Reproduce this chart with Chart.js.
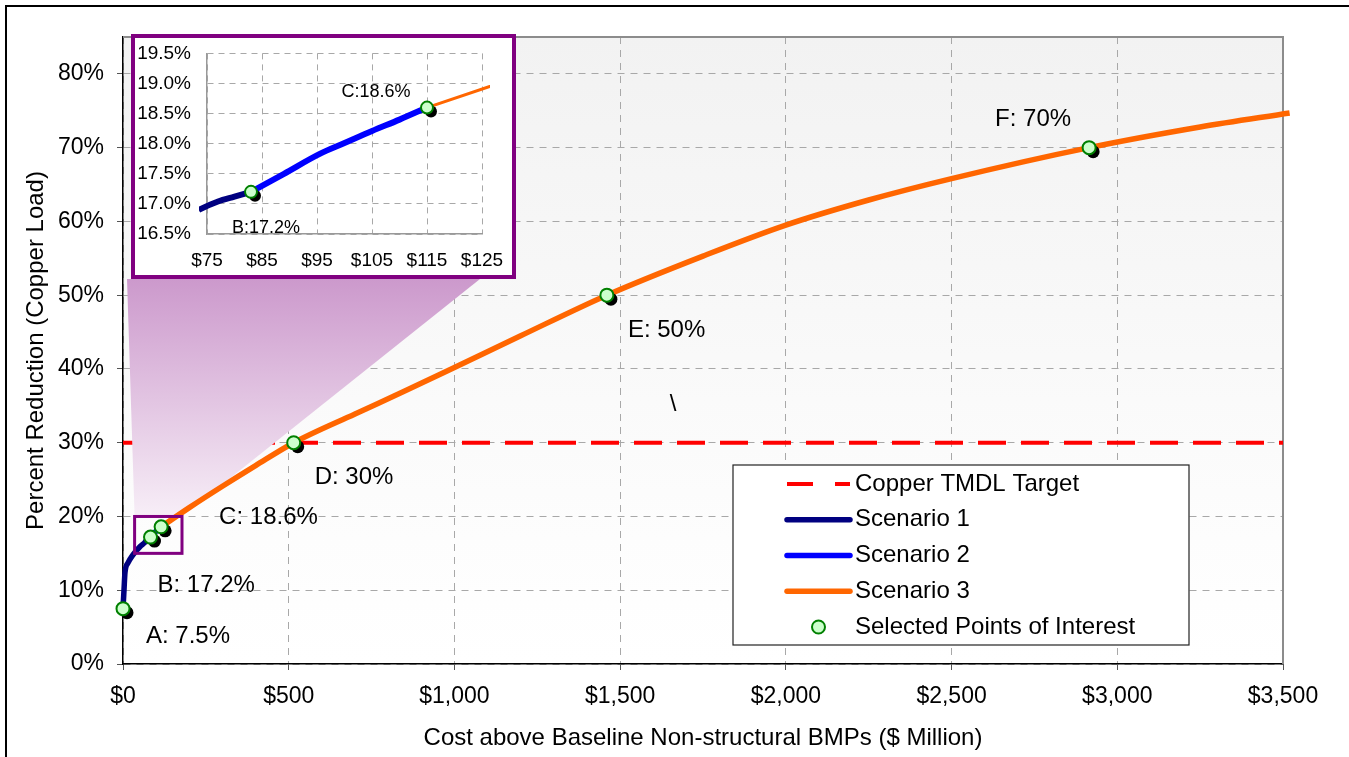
<!DOCTYPE html>
<html>
<head>
<meta charset="utf-8">
<title>Copper Load Reduction vs Cost</title>
<script src="https://cdn.jsdelivr.net/npm/chart.js@4/dist/chart.umd.min.js"></script>
<style>
  html, body { margin: 0; padding: 0; background: #fff; }
  #wrap { position: relative; width: 1349px; height: 757px; overflow: hidden; }
  #main { position: absolute; left: 0; top: 0; }
  #zoomBox { position: absolute; left: 131px; top: 34px; width: 385px; height: 245px;
             box-sizing: border-box; border: 4px solid #800080; background: #fff; }
  #inset { display: block; }
</style>
</head>
<body>
<div id="wrap">
  <canvas id="main" width="1349" height="757"></canvas>
  <div id="zoomBox"><canvas id="inset" width="377" height="237"></canvas></div>
</div>
<script>
// ---- Data: cost above baseline ($ million) and percent reduction of copper load ----
const scenario1Cost = [0, 3, 6, 15, 30, 51, 66, 73.5, 77, 80, 83];
const scenario1Pct  = [7.5, 10, 12.4, 13.7, 14.8, 15.9, 16.5, 16.9, 17.04, 17.12, 17.2];

const scenario2Cost = [83, 89, 95.5, 100, 105, 110, 115];
const scenario2Pct  = [17.2, 17.5, 17.83, 18.01, 18.21, 18.4, 18.6];

const scenario3Cost = [115, 200, 300, 400, 515, 700, 850, 1000, 1200, 1460, 1750, 2000, 2250, 2500, 2915, 3250, 3520];
const scenario3Pct  = [18.6, 21.2, 24.1, 26.9, 30.0, 33.9, 37.0, 40.2, 44.5, 50.0, 55.3, 59.5, 62.9, 65.8, 70.0, 72.8, 74.7];

const targetCost = [0, 3500];
const targetPct  = [30, 30];

const poiNames = ['A', 'B', 'C', 'D', 'E', 'F'];
const poiCost  = [0, 83, 115, 515, 1460, 2915];
const poiPct   = [7.5, 17.2, 18.6, 30, 50, 70];

const insetPoiNames = ['B', 'C'];

const xTicksMain = [0, 500, 1000, 1500, 2000, 2500, 3000, 3500];
const yTicksMain = [0, 10, 20, 30, 40, 50, 60, 70, 80];
const xTicksInset = [75, 85, 95, 105, 115, 125];
const yTicksInset = [16.5, 17.0, 17.5, 18.0, 18.5, 19.0, 19.5];

const seriesNames = ['Copper TMDL Target', 'Scenario 1', 'Scenario 2', 'Scenario 3', 'Selected Points of Interest'];
const xTitle = 'Cost above Baseline Non-structural BMPs ($ Million)';
const yTitle = 'Percent Reduction (Copper Load)';
const strayMarks = [{ cost: 1660, pct: 35.2, text: '\\' }];

// ---- Styling ----
const FONT = '"Liberation Sans", Arial, Helvetica, sans-serif';
const COLORS = { target: '#FF0000', s1: '#000080', s2: '#0000FF', s3: '#FF6600',
                 poiFill: '#CCFFCC', poiEdge: '#008000', zoom: '#800080' };
const SHADOW = { dx: 4, dy: 4 };
// label offsets (px) from each point: text left edge / vertical middle
const labelOffsets = { A: [23, 28], B: [7, 48], C: [58, -9], D: [21, 35], E: [21, 35], F: [-94, -28] };
const insetLabelOffsets = { B: [15, 36], C: [-51, -16] };
// zoom rectangle on the main chart (data units) and the funnel top (page px)
const zoomRect = { x0: 35, x1: 178, y0: 15, y1: 20 };
const funnelTop = { y: 279, xl: 127, xr: 480 };
const legendBox = { left: 733, top: 465, width: 456, height: 180, row0: 484, step: 35.75,
                    sx0: 787, sx1: 850, tx: 855 };

const pts = (xs, ys) => xs.map((x, i) => ({ x, y: ys[i] }));

function buildDatasets(widths, clipLines) {
  return [
    { label: seriesNames[0], data: pts(targetCost, targetPct), borderColor: COLORS.target,
      backgroundColor: COLORS.target, borderWidth: 4, borderDash: [28, 15], borderDashOffset: 5,
      pointRadius: 0, order: 5, isTarget: true },
    { label: seriesNames[1], data: pts(scenario1Cost, scenario1Pct), borderColor: COLORS.s1,
      backgroundColor: COLORS.s1, borderWidth: widths[0], pointRadius: 0,
      cubicInterpolationMode: 'monotone', order: 2, clip: clipLines, isS1: true },
    { label: seriesNames[2], data: pts(scenario2Cost, scenario2Pct), borderColor: COLORS.s2,
      backgroundColor: COLORS.s2, borderWidth: widths[1], pointRadius: 0,
      cubicInterpolationMode: 'monotone', order: 3, clip: clipLines },
    { label: seriesNames[3], data: pts(scenario3Cost, scenario3Pct), borderColor: COLORS.s3,
      backgroundColor: COLORS.s3, borderWidth: widths[2], pointRadius: 0,
      cubicInterpolationMode: 'monotone', order: 4, clip: clipLines },
    { label: seriesNames[4], data: pts(poiCost, poiPct), showLine: false,
      pointRadius: widths[3], pointBackgroundColor: COLORS.poiFill, pointBorderColor: COLORS.poiEdge,
      pointBorderWidth: 2, borderColor: COLORS.poiEdge, backgroundColor: COLORS.poiFill,
      order: 1, clip: false, isPOI: true }
  ];
}

// black drop shadows under the points of interest
const shadowPlugin = {
  id: 'poiShadow',
  beforeDatasetDraw(chart, args) {
    const ds = chart.data.datasets[args.index];
    if (!ds.isPOI) return;
    const ctx = chart.ctx;
    ctx.save();
    ctx.fillStyle = '#000';
    args.meta.data.forEach(p => {
      ctx.beginPath();
      ctx.arc(p.x + SHADOW.dx, p.y + SHADOW.dy, ds.pointRadius, 0, Math.PI * 2);
      ctx.fill();
    });
    ctx.restore();
  }
};

const fmtPct = v => String(v);

const mainDecor = {
  id: 'mainDecor',
  beforeDraw(chart) {
    const { ctx, chartArea: a } = chart;
    ctx.save();
    // outer frame
    ctx.strokeStyle = '#000';
    ctx.lineWidth = 2;
    ctx.strokeRect(6, 6, 2000, 2000);
    // plot background
    const g = ctx.createLinearGradient(0, a.top, 0, a.bottom);
    g.addColorStop(0, '#f2f2f2');
    g.addColorStop(0.8, '#fdfdfd');
    g.addColorStop(1, '#ffffff');
    ctx.fillStyle = g;
    ctx.fillRect(a.left, a.top, a.right - a.left, a.bottom - a.top);
    ctx.restore();
  },
  beforeDatasetsDraw(chart) {
    const { ctx, chartArea: a } = chart;
    ctx.save();
    ctx.strokeStyle = '#8c8c8c';
    ctx.lineWidth = 2;
    ctx.beginPath();
    ctx.moveTo(a.left, a.top);
    ctx.lineTo(a.right, a.top);
    ctx.lineTo(a.right, a.bottom);
    ctx.stroke();
    ctx.restore();
  },
  afterDatasetDraw(chart, args) {
    const ds = chart.data.datasets[args.index];
    const { ctx, scales: { x, y } } = chart;
    const rx0 = x.getPixelForValue(zoomRect.x0), rx1 = x.getPixelForValue(zoomRect.x1);
    const ry0 = y.getPixelForValue(zoomRect.y1), ry1 = y.getPixelForValue(zoomRect.y0);
    if (ds.isTarget) {
      // funnel linking the zoom rectangle to the inset
      ctx.save();
      const g = ctx.createLinearGradient(0, funnelTop.y, 0, ry0);
      g.addColorStop(0, 'rgb(204,153,204)');
      g.addColorStop(1, 'rgb(247,238,247)');
      ctx.fillStyle = g;
      ctx.beginPath();
      ctx.moveTo(funnelTop.xl, funnelTop.y);
      ctx.lineTo(funnelTop.xr, funnelTop.y);
      ctx.lineTo(rx1, ry0);
      ctx.lineTo(rx0, ry0);
      ctx.closePath();
      ctx.fill();
      ctx.restore();
    }
    if (ds.isS1) {
      ctx.save();
      ctx.strokeStyle = COLORS.zoom;
      ctx.lineWidth = 3;
      ctx.strokeRect(rx0, ry0, rx1 - rx0, ry1 - ry0);
      ctx.restore();
    }
  },
  afterDatasetsDraw(chart) {
    const { ctx, scales: { x, y } } = chart;
    const poiIdx = chart.data.datasets.findIndex(d => d.isPOI);
    const meta = chart.getDatasetMeta(poiIdx);
    ctx.save();
    ctx.fillStyle = '#000';
    ctx.font = '24px ' + FONT;
    ctx.textAlign = 'left';
    ctx.textBaseline = 'middle';
    meta.data.forEach((p, i) => {
      const n = poiNames[i];
      const off = labelOffsets[n];
      ctx.fillText(n + ': ' + fmtPct(poiPct[i]) + '%', p.x + off[0], p.y + off[1]);
    });
    strayMarks.forEach(m => {
      ctx.textAlign = 'center';
      ctx.fillText(m.text, x.getPixelForValue(m.cost), y.getPixelForValue(m.pct));
    });

    // legend
    const L = legendBox;
    ctx.fillStyle = '#fff';
    ctx.fillRect(L.left, L.top, L.width, L.height);
    ctx.strokeStyle = '#222';
    ctx.lineWidth = 1.2;
    ctx.strokeRect(L.left, L.top, L.width, L.height);
    chart.data.datasets.forEach((ds, i) => {
      const cy = L.row0 + i * L.step;
      ctx.save();
      if (ds.isPOI) {
        ctx.beginPath();
        ctx.arc((L.sx0 + L.sx1) / 2, cy, 6.5, 0, Math.PI * 2);
        ctx.fillStyle = COLORS.poiFill;
        ctx.fill();
        ctx.lineWidth = 2;
        ctx.strokeStyle = COLORS.poiEdge;
        ctx.stroke();
      } else {
        ctx.strokeStyle = ds.borderColor;
        ctx.lineWidth = ds.isTarget ? 4 : 5.5;
        ctx.lineCap = ds.isTarget ? 'butt' : 'round';
        ctx.setLineDash(ds.isTarget ? [26, 22] : []);
        ctx.beginPath();
        ctx.moveTo(L.sx0, cy);
        ctx.lineTo(L.sx1, cy);
        ctx.stroke();
      }
      ctx.restore();
      ctx.fillStyle = '#000';
      ctx.textAlign = 'left';
      ctx.fillText(ds.label, L.tx, cy);
    });
    ctx.restore();
  }
};

const tickFont = { family: FONT, size: 23 };

new Chart(document.getElementById('main'), {
  type: 'line',
  data: { datasets: buildDatasets([5.5, 5.5, 5.5, 6.5], 10) },
  options: {
    responsive: false,
    animation: false,
    devicePixelRatio: 1,
    layout: { padding: { left: 20, top: 37, right: 66, bottom: 0 } },
    plugins: { legend: { display: false }, tooltip: { enabled: false } },
    scales: {
      x: {
        type: 'linear', min: xTicksMain[0], max: xTicksMain[xTicksMain.length - 1],
        afterFit(s) { s.height = 93; },
        afterBuildTicks(s) { s.ticks = xTicksMain.map(v => ({ value: v })); },
        ticks: { callback: v => '$' + v.toLocaleString('en-US'), font: tickFont, color: '#000',
                 padding: 13, maxRotation: 0, autoSkip: false },
        grid: { color: '#a8a8a8', lineWidth: 1, tickColor: '#555', tickLength: 6 },
        border: { color: '#000', width: 1.5, dash: [7, 6] },
        title: { display: true, text: xTitle, font: { family: FONT, size: 24 }, color: '#000',
                 padding: { top: 0, bottom: 4 } }
      },
      y: {
        type: 'linear', min: 0, max: 85,
        afterFit(s) { s.width = 103; },
        afterBuildTicks(s) { s.ticks = yTicksMain.map(v => ({ value: v })); },
        ticks: { callback: v => v + '%', font: tickFont, color: '#000', padding: 13 },
        grid: { color: '#a8a8a8', lineWidth: 1, tickColor: '#555', tickLength: 6 },
        border: { color: '#000', width: 1.5, dash: [7, 6] },
        title: { display: true, text: yTitle, font: { family: FONT, size: 24 }, color: '#000',
                 padding: { top: 2, bottom: 0 } }
      }
    }
  },
  plugins: [shadowPlugin, mainDecor]
});

// ---- Inset: close-up of the scenario 1 / 2 / 3 transitions ----
const insetLabels = {
  id: 'insetLabels',
  afterDatasetsDraw(chart) {
    const { ctx } = chart;
    const poiIdx = chart.data.datasets.findIndex(d => d.isPOI);
    const meta = chart.getDatasetMeta(poiIdx);
    ctx.save();
    ctx.fillStyle = '#000';
    ctx.font = '18px ' + FONT;
    ctx.textAlign = 'center';
    ctx.textBaseline = 'middle';
    meta.data.forEach((p, i) => {
      const n = poiNames[i];
      if (!insetPoiNames.includes(n)) return;
      const off = insetLabelOffsets[n];
      ctx.fillText(n + ':' + fmtPct(poiPct[i]) + '%', p.x + off[0], p.y + off[1]);
    });
    ctx.restore();
  }
};

const insetTickFont = { family: FONT, size: 19 };
const insetSets = buildDatasets([6, 6, 3, 6], { left: 8, right: 8, top: 0, bottom: 0 }).filter(d => !d.isTarget);

new Chart(document.getElementById('inset'), {
  type: 'line',
  data: { datasets: insetSets },
  options: {
    responsive: false,
    animation: false,
    devicePixelRatio: 1,
    layout: { padding: { left: 0, top: 15, right: 30, bottom: 0 } },
    plugins: { legend: { display: false }, tooltip: { enabled: false } },
    scales: {
      x: {
        type: 'linear', min: xTicksInset[0], max: xTicksInset[xTicksInset.length - 1],
        afterFit(s) { s.height = 41; },
        afterBuildTicks(s) { s.ticks = xTicksInset.map(v => ({ value: v })); },
        ticks: { callback: v => '$' + v, font: insetTickFont, color: '#000', padding: 3,
                 maxRotation: 0, autoSkip: false },
        grid: { color: '#a8a8a8', lineWidth: 1, tickLength: 12, tickColor: 'rgba(0,0,0,0)' },
        border: { color: '#999', width: 1.5, dash: [6, 5] }
      },
      y: {
        type: 'linear', min: yTicksInset[0], max: yTicksInset[yTicksInset.length - 1],
        afterFit(s) { s.width = 72; },
        afterBuildTicks(s) { s.ticks = yTicksInset.map(v => ({ value: v })); },
        ticks: { callback: v => v.toFixed(1) + '%', font: insetTickFont, color: '#000', padding: 4 },
        grid: { color: '#a8a8a8', lineWidth: 1, tickLength: 12, tickColor: 'rgba(0,0,0,0)' },
        border: { color: '#999', width: 1.5, dash: [6, 5] }
      }
    }
  },
  plugins: [shadowPlugin, insetLabels]
});
</script>
</body>
</html>
